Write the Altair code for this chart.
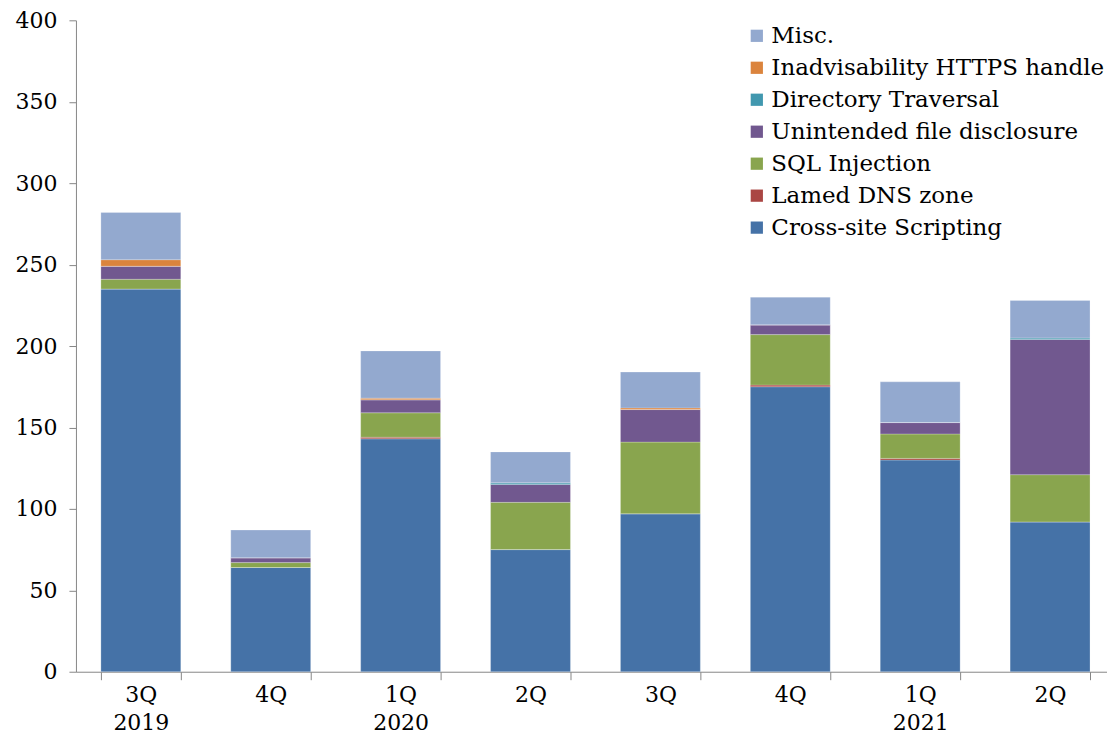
import altair as alt
import pandas as pd

quarters = ["3Q", "4Q", "1Q", "2Q", "3Q", "4Q", "1Q", "2Q"]
years = ["2019", "", "2020", "", "", "", "2021", ""]

series = ["Cross-site Scripting", "Lamed DNS zone", "SQL Injection",
          "Unintended file disclosure", "Directory Traversal",
          "Inadvisability HTTPS handle", "Misc."]
colors = ["#4572A7", "#AA4643", "#89A54E", "#71588F", "#4198AF", "#DB843D", "#93A9CF"]

xss = [235, 64, 143, 75, 97, 175, 130, 92]
lamed = [0, 0, 1, 0, 0, 1, 1, 0]
sql = [6, 3, 15, 29, 44, 31, 15, 29]
unintended = [8, 3, 8, 11, 20, 6, 7, 83]
directory = [0, 0, 0, 1, 0, 0, 0, 1]
https = [4, 0, 1, 0, 1, 0, 0, 0]
misc = [29, 17, 29, 19, 22, 17, 25, 23]

values = [xss, lamed, sql, unintended, directory, https, misc]

keys = [f"{q}|{y}|{i}" for i, (q, y) in enumerate(zip(quarters, years))]
rows = []
for si, (name, vals) in enumerate(zip(series, values)):
    for k, v in zip(keys, vals):
        rows.append({"period": k, "series": name, "value": v, "order": si})
df = pd.DataFrame(rows)

FONT = "DejaVu Serif"
FS = 22

chart = alt.Chart(df).mark_bar(stroke="white", strokeWidth=0.4, strokeOpacity=0.6).encode(
    x=alt.X("period:N", sort=keys, title=None,
            scale=alt.Scale(paddingInner=0.385, paddingOuter=0.1615, align=0.595),
            axis=alt.Axis(labelExpr="[split(datum.label,'|')[0], split(datum.label,'|')[1]]",
                          labelAngle=0, tickBand="extent", tickSize=8, tickColor="#868686",
                          domainColor="#868686", labelFont=FONT, labelFontSize=FS,
                          labelColor="black", labelPadding=5, labelLineHeight=28)),
    y=alt.Y("value:Q", stack="zero", title=None,
            scale=alt.Scale(domain=[0, 400], nice=False),
            axis=alt.Axis(values=list(range(0, 401, 50)), grid=False, tickSize=7,
                          tickColor="#868686", domainColor="#868686", labelFont=FONT,
                          labelFontSize=FS, labelColor="black", labelPadding=12)),
    color=alt.Color("series:N",
                    scale=alt.Scale(domain=series[::-1], range=colors[::-1]),
                    legend=alt.Legend(title=None, orient="none", legendX=670, legendY=4,
                                      symbolType="square", symbolSize=150, symbolStrokeWidth=0,
                                      labelFont=FONT, labelFontSize=23, labelColor="black",
                                      labelLimit=0, rowPadding=8, labelOffset=3)),
    order=alt.Order("order:Q", sort="ascending"),
).properties(
    width=1032, height=652,
    padding={"left": 7, "top": 1, "right": 0, "bottom": 0},
).configure_view(stroke=None)

chart.save("out.html", embed_options={"renderer": "svg", "actions": False})
